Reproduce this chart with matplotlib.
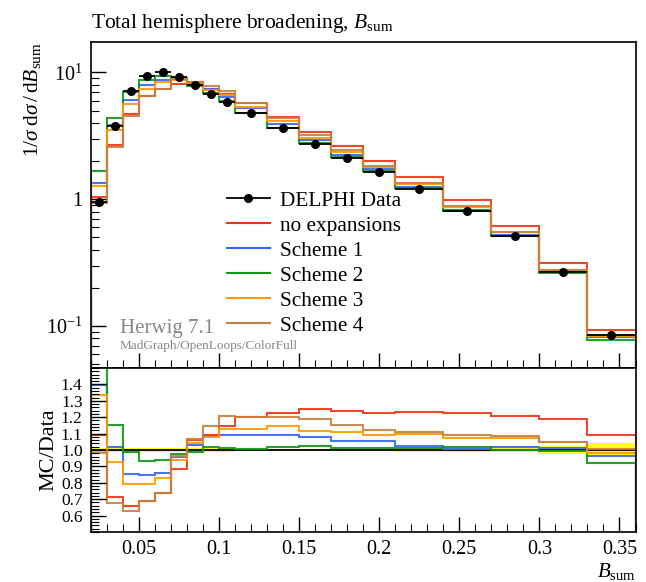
import numpy as np
import matplotlib
matplotlib.use("Agg")
import matplotlib.pyplot as plt
from matplotlib.ticker import MultipleLocator, FuncFormatter, LogLocator, NullFormatter
from matplotlib.lines import Line2D

plt.rcParams['font.family'] = ['Liberation Serif', 'DejaVu Serif']
plt.rcParams['mathtext.fontset'] = 'custom'
plt.rcParams['mathtext.rm'] = 'Liberation Serif'
plt.rcParams['mathtext.it'] = 'Liberation Serif:italic'

# ---- data ----
bin_edges = [0.02, 0.03, 0.04, 0.05, 0.06, 0.07, 0.08, 0.09, 0.10, 0.11,
             0.13, 0.15, 0.17, 0.19, 0.21, 0.24, 0.27, 0.30, 0.33, 0.36]
delphi = [0.96, 3.78, 7.14, 9.38, 10.1, 9.27, 7.92, 6.79, 5.88, 4.76,
          3.62, 2.72, 2.12, 1.64, 1.21, 0.81, 0.51, 0.266, 0.0846]
delphi_relerr = [0.013, 0.012, 0.01, 0.01, 0.01, 0.01, 0.01, 0.01, 0.01, 0.008,
                 0.008, 0.008, 0.008, 0.008, 0.01, 0.01, 0.015, 0.023, 0.04]
# MC / Data ratios
ratio_noexp = [1.09, 0.714, 0.661, 0.69, 0.739, 0.882, 1.06, 1.092, 1.147, 1.204,
               1.225, 1.249, 1.239, 1.224, 1.233, 1.224, 1.209, 1.192, 1.092]
ratio_s1 = [1.398, 1.018, 0.853, 0.845, 0.857, 0.959, 1.03, 1.086, 1.094, 1.094,
            1.09, 1.08, 1.055, 1.055, 1.026, 1.006, 1.018, 1.014, 0.963]
ratio_s2 = [1.75, 1.155, 0.99, 0.933, 0.937, 0.975, 0.99, 1.02, 1.012, 1.008,
            1.016, 1.027, 1.01, 1.01, 1.011, 1.018, 1.001, 0.992, 0.922]
ratio_s3 = [1.335, 0.927, 0.79, 0.794, 0.827, 0.937, 1.045, 1.078, 1.129, 1.129,
            1.144, 1.116, 1.11, 1.09, 1.099, 1.073, 1.076, 1.049, 0.984]
ratio_s4 = [0.98, 0.678, 0.631, 0.69, 0.739, 0.963, 1.07, 1.149, 1.208, 1.204,
            1.204, 1.192, 1.155, 1.124, 1.11, 1.094, 1.083, 1.049, 1.004]

labels = ["no expansions", "Scheme 1", "Scheme 2", "Scheme 3", "Scheme 4"]
colors = ["#EE3311", "#3366FF", "#109618", "#FF9900", "#C8803E"]

edges = np.array(bin_edges)
data = np.array(delphi)
centers = 0.5 * (edges[1:] + edges[:-1])
halfw = 0.5 * np.diff(edges)
relerr = np.array(delphi_relerr)
ratios = [np.array(r) for r in (ratio_noexp, ratio_s1, ratio_s2, ratio_s3, ratio_s4)]

fig = plt.figure(figsize=(6.46, 5.82), dpi=100)
L, W = 91 / 646, 544.5 / 646
ax = fig.add_axes([L, 1 - 368 / 582, W, 326 / 582])
rax = fig.add_axes([L, 1 - 532 / 582, W, 164 / 582], sharex=ax)

# main panel
for r, c in zip(ratios, colors):
    ax.stairs(r * data, edges, color=c, lw=1.5, alpha=0.9)
ax.errorbar(centers, data, xerr=halfw, yerr=relerr * data, fmt='o', color='black',
            ms=5.5, lw=1.3, capsize=0, zorder=5)
ax.set_yscale('log')
ax.set_xlim(0.02, 0.36)
ax.set_ylim(0.0467, 17.4)
ax.set_yticks([0.1, 1, 10], labels=[r'$10^{-1}$', '1', r'$10^{1}$'])
ax.yaxis.set_minor_locator(LogLocator(base=10, subs=np.arange(2, 10)))
ax.yaxis.set_minor_formatter(NullFormatter())
ax.tick_params(axis='x', labelbottom=False)
ax.set_ylabel(r'$1/\sigma\;\mathrm{d}\sigma\,/\,\mathrm{d}B_{\mathrm{sum}}$', fontsize=15.5,
              loc='top', labelpad=2)
ax.set_title(r'Total hemisphere broadening, $B_{\mathrm{sum}}$', loc='left', fontsize=15.5, pad=10)

handles = [Line2D([], [], color='black', marker='o', ms=5.5, lw=1.3)]
handles += [Line2D([], [], color=c, lw=1.5) for c in colors]
ax.legend(handles, ["DELPHI Data"] + labels, loc='upper left',
          bbox_to_anchor=((227 - 91) / 544.5, (368 - 191) / 326),
          frameon=False, fontsize=15.3, handlelength=2.0, handletextpad=0.5,
          labelspacing=0.24, borderpad=0, borderaxespad=0)
ax.text((120 - 91) / 544.5, (368 - 333) / 326, 'Herwig 7.1', transform=ax.transAxes,
        fontsize=15, color='#888888', ha='left', va='baseline')
ax.text((120 - 91) / 544.5, (368 - 349) / 326, 'MadGraph/OpenLoops/ColorFull',
        transform=ax.transAxes, fontsize=9.5, color='#888888', ha='left', va='baseline')

# ratio panel
rax.stairs(1 + relerr, edges, baseline=1 - relerr, fill=True, color='#FFFF00', alpha=0.9, lw=0)
rax.stairs(np.ones_like(data), edges, color='black', lw=1.3)
for r, c in zip(ratios, colors):
    rax.stairs(r, edges, color=c, lw=1.5, alpha=0.9)
rax.set_ylim(0.5, 1.5)
rax.yaxis.set_minor_locator(MultipleLocator(0.02))
rax.set_yticks(np.round(np.arange(0.6, 1.45, 0.1), 1))
rax.yaxis.set_major_formatter(FuncFormatter(lambda v, p: f'{v:.1f}'))
rax.xaxis.set_major_locator(MultipleLocator(0.05))
rax.xaxis.set_minor_locator(MultipleLocator(0.01))
rax.xaxis.set_major_formatter(FuncFormatter(lambda v, p: f'{v:g}'))
rax.set_ylabel('MC/Data', fontsize=16, labelpad=2)
rax.set_xlabel(r'$B_{\mathrm{sum}}$', fontsize=15, loc='right', labelpad=1)

for a in (ax, rax):
    a.tick_params(which='major', direction='in', length=11, width=1.0, labelsize=14.5,
                  top=False, right=False, pad=6)
    a.tick_params(which='minor', direction='in', length=5.5, width=0.8, top=False, right=False)
    for s in a.spines.values():
        s.set_linewidth(1.2)
rax.tick_params(axis='y', which='major', labelsize=12.5)

fig.align_ylabels([ax, rax])
fig.savefig('out.png', dpi=100)
